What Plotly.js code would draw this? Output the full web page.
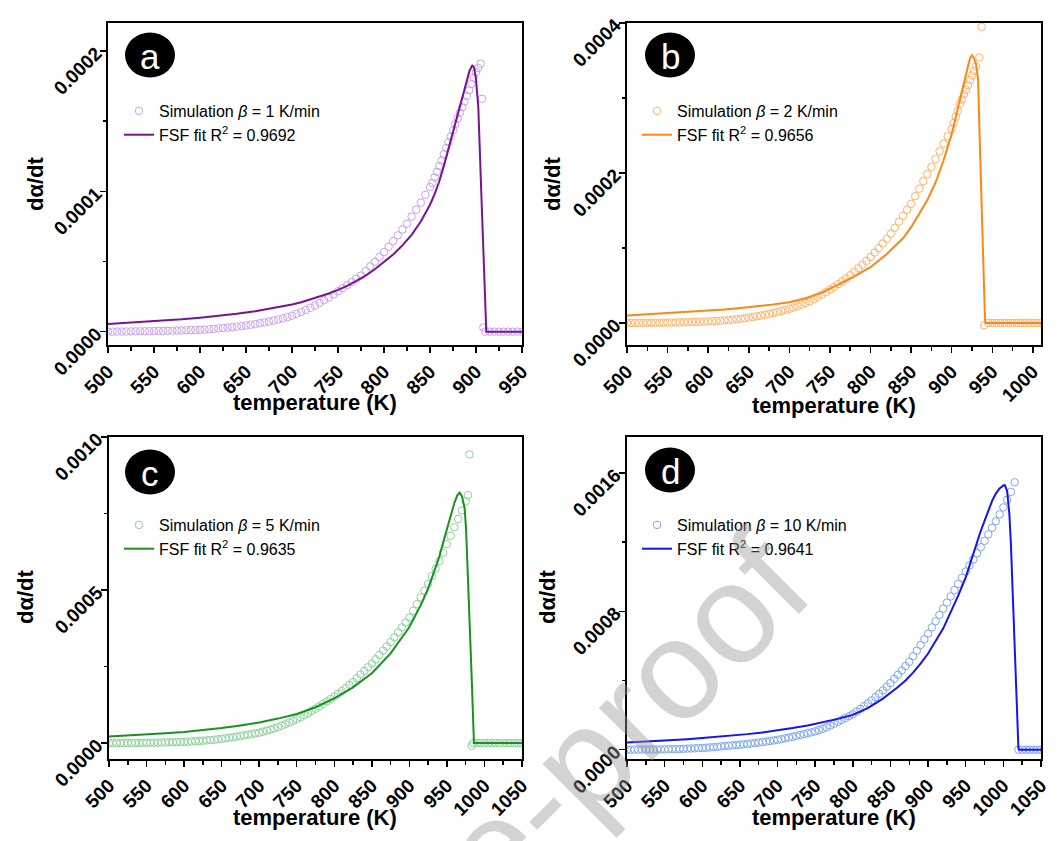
<!DOCTYPE html>
<html><head><meta charset="utf-8">
<script src="https://cdn.plot.ly/plotly-3.0.1.min.js"></script>
<style>html,body{margin:0;padding:0;background:#fff}#chart{width:1060px;height:841px}</style>
</head><body><div id="chart"></div>
<script>
// ---- data (dα/dt values given in units of 1e-4) ----
const simA_T = [500,505,510,515,520,525,530,535,540,545,550,555,560,565,570,575,580,585,590,595,600,605,610,615,620,625,630,635,640,645,650,655,660,665,670,675,680,685,690,695,700,705,710,715,720,725,730,735,740,745,750,755,760,765,770,775,780,785,790,795,800,805,810,815,820,825,830,835,840,845,850,852.5,855,857.5,860,862.5,865,867.5,870,872.5,875,877.5,880,882.5,885,887.5,890,892.5,895,897.5,900,902.5,905,906.5,908,910,915,920,925,930,935,940,945,950];
const simA_e4 = [0.000,0.000,0.001,0.001,0.001,0.002,0.002,0.003,0.003,0.004,
0.004,0.005,0.006,0.007,0.007,0.008,0.009,0.010,0.011,0.012,
0.013,0.015,0.017,0.020,0.023,0.026,0.029,0.032,0.036,0.040,
0.044,0.049,0.054,0.060,0.066,0.072,0.079,0.087,0.095,0.104,
0.114,0.127,0.141,0.155,0.170,0.186,0.205,0.224,0.244,0.265,
0.288,0.310,0.332,0.354,0.377,0.400,0.432,0.465,0.498,0.532,
0.567,0.605,0.645,0.686,0.728,0.770,0.820,0.870,0.920,0.975,
1.030,1.06,1.10,1.14,1.18,1.22,1.265,1.31,1.35,1.39,1.435,1.48,1.52,1.56,1.60,1.64,1.68,1.72,1.765,1.81,1.85,1.88,1.91,
1.66,0.03,0,0,0,0,0,0,0,0,0];
const fitA_T = [500,520,540,560,580,600,620,640,660,680,700,710,720,730,740,750,760,770,780,790,800,810,820,830,840,850,855,860,865,870,875,880,885,890,893,896,898,900,902.5,905,907.5,910,911.2,950];
const fitA_e4 = [0.055,0.062,0.070,0.078,0.088,0.100,0.112,0.127,0.145,0.167,0.193,0.21,0.23,0.25,0.272,0.298,0.327,0.362,0.40,0.445,0.495,0.55,0.615,0.69,0.785,0.905,0.98,1.07,1.18,1.30,1.43,1.56,1.68,1.79,1.86,1.90,1.88,1.80,1.60,1.13,0.65,0.18,0,0];

const simB_T = [500,505,510,515,520,525,530,535,540,545,550,555,560,565,570,575,580,585,590,595,600,605,610,615,620,625,630,635,640,645,650,655,660,665,670,675,680,685,690,695,700,705,710,715,720,725,730,735,740,745,750,755,760,765,770,775,780,785,790,795,800,805,810,815,820,825,830,835,840,845,850,855,860,865,870,875,880,885,890,895,900,902.5,905,907.5,910,912.5,915,917.5,920,922.5,925,927.5,930,934,937,940,945,950,955,960,965,970,975,980,985,990,995,1000,1005,1010];
const simB_e4 = [0.000,0.000,0.001,0.001,0.002,0.002,0.003,0.003,0.004,0.004,
0.005,0.006,0.007,0.008,0.009,0.010,0.012,0.014,0.016,0.018,
0.020,0.023,0.026,0.030,0.034,0.039,0.044,0.050,0.056,0.063,
0.072,0.080,0.089,0.099,0.110,0.121,0.133,0.146,0.159,0.173,
0.188,0.205,0.223,0.243,0.264,0.287,0.317,0.347,0.378,0.411,
0.445,0.480,0.517,0.555,0.595,0.637,0.683,0.730,0.778,0.828,
0.880,0.938,0.998,1.06,1.123,1.19,1.27,1.35,1.43,1.51,
1.59,1.69,1.79,1.89,1.985,2.08,2.185,2.29,2.39,2.49,
2.59,2.67,2.75,2.83,2.92,2.98,3.05,3.11,3.17,3.24,3.30,3.36,3.42,
3.54,3.95,-0.03,0,0,0,0,0,0,0,0,0,0,0,0,0,0];
const fitB_T = [500,520,540,560,580,600,620,640,660,680,700,720,740,750,760,780,800,820,840,850,860,870,880,890,900,905,910,915,920,922.5,925,927.5,930,932.5,934.5,937,939.5,941,942,1010];
const fitB_e4 = [0.098,0.11,0.122,0.136,0.15,0.165,0.18,0.20,0.22,0.245,0.275,0.33,0.405,0.455,0.51,0.62,0.743,0.92,1.13,1.277,1.45,1.64,1.87,2.17,2.52,2.75,2.99,3.22,3.43,3.53,3.57,3.53,3.45,3.25,2.45,1.45,0.65,0.05,0,0];

const simC_T = [500,505,510,515,520,525,530,535,540,545,550,555,560,565,570,575,580,585,590,595,600,605,610,615,620,625,630,635,640,645,650,655,660,665,670,675,680,685,690,695,700,705,710,715,720,725,730,735,740,745,750,755,760,765,770,775,780,785,790,795,800,805,810,815,820,825,830,835,840,845,850,855,860,865,870,875,880,885,890,895,900,905,910,915,920,925,930,935,940,945,950,955,960,965,970,975,978,980,983,985,990,995,1000,1005,1010,1015,1020,1025,1030,1035,1040,1045,1050];
const simC_e4 = [0.000,0.000,0.001,0.002,0.003,0.004,0.005,0.006,0.008,0.009,
0.010,0.012,0.014,0.017,0.019,0.022,0.025,0.028,0.032,0.036,
0.040,0.046,0.053,0.061,0.070,0.079,0.089,0.100,0.112,0.126,
0.140,0.156,0.173,0.191,0.210,0.231,0.253,0.274,0.296,0.318,
0.340,0.372,0.406,0.442,0.480,0.520,0.568,0.618,0.670,0.724,
0.780,0.845,0.912,0.980,1.05,1.12,1.20,1.28,1.36,1.44,
1.52,1.61,1.70,1.80,1.90,2.00,2.12,2.24,2.36,2.48,
2.60,2.74,2.88,3.02,3.16,3.30,3.46,3.62,3.78,3.94,
4.10,4.32,4.54,4.76,4.98,5.20,5.45,5.70,5.95,6.22,
6.50,6.77,7.05,7.32,7.60,7.90,
8.10,9.43,-0.09,0,0,0,0,0,0,0,0,0,0,0,0,0,0];
const fitC_T = [500,525,550,575,600,625,650,675,700,725,750,775,800,825,850,875,900,915,925,935,940,945,950,955,960,964,967,970,973.5,975.5,977,980,983.5,986,1050];
const fitC_e4 = [0.217,0.245,0.28,0.32,0.36,0.42,0.49,0.575,0.67,0.80,0.95,1.17,1.46,1.82,2.28,2.93,3.79,4.5,5.05,5.75,6.1,6.55,7.0,7.45,7.85,8.1,8.18,8.07,7.69,7.0,6.2,4.1,1.8,0,0];

const simD_T = [500,505,510,515,520,525,530,535,540,545,550,555,560,565,570,575,580,585,590,595,600,605,610,615,620,625,630,635,640,645,650,655,660,665,670,675,680,685,690,695,700,705,710,715,720,725,730,735,740,745,750,755,760,765,770,775,780,785,790,795,800,805,810,815,820,825,830,835,840,845,850,855,860,865,870,875,880,885,890,895,900,905,910,915,920,925,930,935,940,945,950,955,960,965,970,975,980,985,990,995,1000,1005,1010,1015,1020,1025,1030,1035,1040,1045,1050];
const simD_e4 = [0.000,0.000,0.005,0.007,0.009,0.011,0.013,0.015,0.017,0.019,
0.022,0.026,0.031,0.037,0.044,0.052,0.061,0.070,0.080,0.090,
0.100,0.115,0.132,0.150,0.170,0.190,0.210,0.231,0.252,0.272,
0.290,0.310,0.333,0.358,0.384,0.412,0.442,0.473,0.505,0.537,
0.570,0.610,0.652,0.697,0.745,0.795,0.848,0.900,0.955,1.005,
1.06,1.13,1.21,1.30,1.40,1.50,1.61,1.72,1.83,1.94,
2.05,2.20,2.36,2.52,2.68,2.85,3.04,3.23,3.43,3.64,
3.85,4.09,4.33,4.58,4.83,5.08,5.40,5.72,6.05,6.38,
6.71,7.07,7.43,7.79,8.15,8.50,8.86,9.22,9.58,9.94,
10.30,10.65,11.00,11.35,11.70,12.07,12.45,12.82,13.20,13.60,
14.00,14.45,14.90,15.45,0,0,0,0,0,0,0];
const fitD_T = [500,520,540,560,580,600,620,640,660,680,700,720,740,760,780,800,820,840,850,860,870,880,890,900,910,920,930,940,950,960,970,980,985,990,995,1000,1002,1005,1008,1010,1012,1015,1018,1020,1021,1050];
const fitD_e4 = [0.42,0.46,0.51,0.56,0.61,0.67,0.74,0.82,0.90,1.0,1.11,1.25,1.4,1.58,1.78,2.01,2.4,2.95,3.26,3.62,4.0,4.45,4.98,5.56,6.28,7.0,7.95,8.9,9.96,11.3,12.65,13.8,14.37,14.8,15.1,15.27,15.29,14.95,13.6,11.9,9.6,5.5,1.8,0.1,0,0];

const simNames = ['Simulation <i>β</i> = 1 K/min','Simulation <i>β</i> = 2 K/min','Simulation <i>β</i> = 5 K/min','Simulation <i>β</i> = 10 K/min'];
const fitNames = ['FSF fit R<sup>2</sup> = 0.9692','FSF fit R<sup>2</sup> = 0.9656','FSF fit R<sup>2</sup> = 0.9635','FSF fit R<sup>2</sup> = 0.9641'];
const panelLetters = ['a','b','c','d'];
const xTitle = 'temperature (K)';
const yTitle = 'dα/dt';

// ---- styling ----
const FONT = 'Liberation Sans, Arial, sans-serif';
const W = 1060, H = 841;
const simColors = ['#c8a2ec','#ffb26b','#8ed19f','#7ea6f2'];
const fitColors = ['#7a1294','#ff8614','#16941c','#1414f0'];
// pixel frames [left, right, top, bottom]
const frames = [[108,522,23,345],[627,1041,23,345],[109,522,437,759],[627,1041,437,759]];
const xRanges = [[500,950],[500,1010],[500,1050],[500,1050]];
const yRanges = [[-0.0000095,0.00022],[-0.0000294,0.0004],[-0.000052,0.0010],[-0.0000537,0.001807]];
const yDticks = [0.0001,0.0002,0.0005,0.0008];

const sims = [[simA_T,simA_e4],[simB_T,simB_e4],[simC_T,simC_e4],[simD_T,simD_e4]];
const fits = [[fitA_T,fitA_e4],[fitB_T,fitB_e4],[fitC_T,fitC_e4],[fitD_T,fitD_e4]];
const e4 = a => a.map(v => v*1e-4);

const px = x => x/W, py = y => 1 - y/H;
const traces = [];
const layout = {width:W, height:H, margin:{l:0,r:0,t:0,b:0}, paper_bgcolor:'#fff', plot_bgcolor:'#fff',
  font:{family:FONT,color:'#000'}, showlegend:true, shapes:[], annotations:[]};

const legendPos = [[119,94],[637,94],[119,508],[637,508]];
const badge = [[150,55],[670,55],[150,472],[670,470]];
const xTitlePos = [[315,403],[834,405],[315,817],[834,817]];
const yTitlePos = [[36,184],[553,184],[25,597],[547,597]];

for (let i=0;i<4;i++){
  const sfx = i===0 ? '' : String(i+1);
  const lg = 'legend'+sfx;
  traces.push({type:'scatter', mode:'markers', x:sims[i][0], y:e4(sims[i][1]), name:simNames[i],
    xaxis:'x'+sfx, yaxis:'y'+sfx, legend:lg,
    marker:{symbol:'circle-open', size:7.5, color:simColors[i], line:{width:1, color:simColors[i]}}});
  traces.push({type:'scatter', mode:'lines', x:fits[i][0], y:e4(fits[i][1]), name:fitNames[i],
    xaxis:'x'+sfx, yaxis:'y'+sfx, legend:lg, line:{color:fitColors[i], width:2}});
  const f = frames[i];
  const common = {showline:true, linewidth:2, linecolor:'#000', mirror:true, showgrid:false, zeroline:false,
    ticks:'outside', ticklen:6, tickwidth:1.5, tickcolor:'#000', tickangle:-45,
    tickfont:{family:FONT, size:19, color:'#000', weight:'bold'}};
  layout['xaxis'+sfx] = Object.assign({}, common, {domain:[px(f[0]),px(f[1])], anchor:'y'+sfx,
    range:xRanges[i], dtick:50, tick0:500,
    minor:{ticks:'outside', ticklen:3.5, tickwidth:1.5, tickcolor:'#000', dtick:25}});
  layout['yaxis'+sfx] = Object.assign({}, common, {domain:[py(f[3]),py(f[2])], anchor:'x'+sfx,
    range:yRanges[i], dtick:yDticks[i], tick0:0, tickformat:'.4f',
    minor:{ticks:'outside', ticklen:3.5, tickwidth:1.5, tickcolor:'#000', dtick:yDticks[i]/2}});
  layout[lg] = {x:px(legendPos[i][0]), y:py(legendPos[i][1]), xanchor:'left', yanchor:'top',
    bgcolor:'rgba(0,0,0,0)', borderwidth:0, font:{family:FONT, size:16, color:'#000'}, tracegroupgap:0};
  const b = badge[i];
  layout.shapes.push({type:'circle', xref:'paper', yref:'paper', x0:px(b[0]-25), x1:px(b[0]+25),
    y0:py(b[1]+22.5), y1:py(b[1]-22.5), fillcolor:'#000', line:{color:'#000', width:0}});
  layout.annotations.push({xref:'paper', yref:'paper', x:px(b[0]), y:py(b[1]+1), text:panelLetters[i],
    showarrow:false, xanchor:'center', yanchor:'middle', font:{family:FONT, size:35, color:'#fff'}});
  layout.annotations.push({xref:'paper', yref:'paper', x:px(xTitlePos[i][0]), y:py(xTitlePos[i][1]), text:xTitle,
    showarrow:false, xanchor:'center', yanchor:'middle', font:{family:FONT, size:22, color:'#000', weight:'bold'}});
  layout.annotations.push({xref:'paper', yref:'paper', x:px(yTitlePos[i][0]), y:py(yTitlePos[i][1]), text:yTitle,
    showarrow:false, textangle:-90, xanchor:'center', yanchor:'middle', font:{family:FONT, size:22, color:'#000', weight:'bold'}});
}
// journal watermark
layout.annotations.push({xref:'paper', yref:'paper', x:px(395), y:py(947), text:'Journal Pre-proof', showarrow:false,
  textangle:-45, xanchor:'center', yanchor:'middle', font:{family:FONT, size:142, color:'rgba(150,150,150,0.42)'}});

Plotly.newPlot('chart', traces, layout, {displayModeBar:false, staticPlot:true});
</script></body></html>
